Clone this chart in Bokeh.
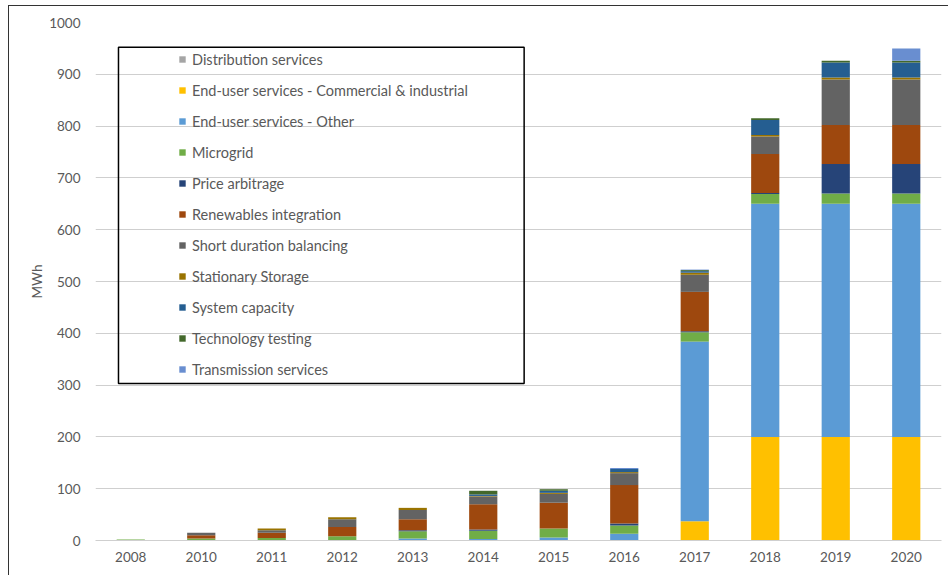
from bokeh.plotting import figure
from bokeh.models import ColumnDataSource, BoxAnnotation, FixedTicker
from bokeh.embed import file_html
from bokeh.resources import INLINE

years = ["2008", "2010", "2011", "2012", "2013", "2014", "2015", "2016", "2017", "2018", "2019", "2020"]

distribution_services = [0, 0, 0, 0, 0, 0, 0, 0, 0, 0, 0, 0]
end_user_ci =           [0, 0, 0, 0, 0, 0, 0, 0, 37, 200, 200, 200]
end_user_other =        [0, 0, 1, 1, 4, 3, 6, 13, 347, 450, 450, 450]
microgrid =             [2, 4, 4, 7, 14, 16, 17, 16, 18, 19, 20, 20]
price_arbitrage =       [0, 0, 0, 0, 2, 2, 0, 4, 2, 2, 57, 57]
renewables =            [0, 6, 10, 18, 21, 49, 50, 74, 76, 75, 75, 75]
short_duration =        [0, 5, 5, 15, 18, 15, 17, 23, 33, 34, 88, 88]
stationary_storage =    [0, 0, 3, 4, 4, 1, 2, 2, 4, 3, 4, 4]
system_capacity =       [0, 0, 0, 0, 0, 3, 4, 6, 3, 29, 29, 29]
technology_testing =    [0, 0, 0, 0, 0, 7, 3, 0, 2, 3, 3, 3]
transmission =          [0, 0, 0, 0, 0, 0, 0, 2, 1, 0, 0, 24]

series_labels = ["Distribution services", "End-user services - Commercial & industrial",
                 "End-user services - Other", "Microgrid", "Price arbitrage",
                 "Renewables integration", "Short duration balancing", "Stationary Storage",
                 "System capacity", "Technology testing", "Transmission services"]
series_data = [distribution_services, end_user_ci, end_user_other, microgrid, price_arbitrage,
               renewables, short_duration, stationary_storage, system_capacity,
               technology_testing, transmission]
colors = ["#A5A5A5", "#FFC000", "#5B9BD5", "#70AD47", "#264478", "#9E480E",
          "#636363", "#997300", "#255E91", "#43682B", "#698ED0"]
y_ticks = [0, 100, 200, 300, 400, 500, 600, 700, 800, 900, 1000]

keys = ["s%d" % i for i in range(len(series_data))]
data = {"year": years}
for k, v in zip(keys, series_data):
    data[k] = v
source = ColumnDataSource(data)

FONT = "Lato"
TXT = "#595959"

p = figure(x_range=years, y_range=(0, 1000), width=940, height=570,
           output_backend="svg", toolbar_location=None,
           min_border_left=86, min_border_right=8, min_border_top=16, min_border_bottom=36)
p.styles = {"margin-left": "8px", "margin-top": "5px",
            "border-left": "1px solid #333333", "border-top": "1px solid #333333"}

p.vbar_stack(keys, x="year", width=0.4, color=colors, line_color=None,
             source=source, legend_label=series_labels)

p.outline_line_color = None
p.xgrid.grid_line_color = None
p.ygrid.grid_line_color = "#cfcfcf"
p.ygrid.grid_line_width = 1
p.yaxis.ticker = FixedTicker(ticks=y_ticks)

p.yaxis.axis_line_color = None
p.yaxis.major_tick_line_color = None
p.yaxis.minor_tick_line_color = None
p.yaxis.major_label_text_font = FONT
p.yaxis.major_label_text_font_size = "13.5px"
p.yaxis.major_label_text_color = TXT
p.yaxis.major_label_standoff = 9
p.yaxis.axis_label = "MWh"
p.yaxis.axis_label_text_font = FONT
p.yaxis.axis_label_text_font_style = "normal"
p.yaxis.axis_label_text_font_size = "13.5px"
p.yaxis.axis_label_text_color = TXT
p.yaxis.axis_label_standoff = 1

p.xaxis.axis_line_color = "#cfcfcf"
p.xaxis.major_tick_line_color = None
p.xaxis.minor_tick_line_color = None
p.xaxis.major_label_text_font = FONT
p.xaxis.major_label_text_font_size = "13.5px"
p.xaxis.major_label_text_color = TXT
p.xaxis.major_label_standoff = 5

lg = p.legend[0]
lg.location = (83, 161)
lg.padding = 0
lg.margin = 0
lg.spacing = 11
lg.label_height = 20
lg.glyph_width = 8
lg.glyph_height = 8
lg.label_standoff = 6
lg.label_text_font = FONT
lg.label_text_font_size = "14.5px"
lg.label_text_color = TXT
lg.border_line_color = None
lg.background_fill_alpha = 0
lg.level = "image"

box = BoxAnnotation(left=0.326, right=6.08, bottom=303, top=952,
                    fill_alpha=0, line_color="black", line_alpha=1.0, line_width=1.5)
p.add_layout(box)

open("out.html", "w").write(file_html(p, INLINE))
